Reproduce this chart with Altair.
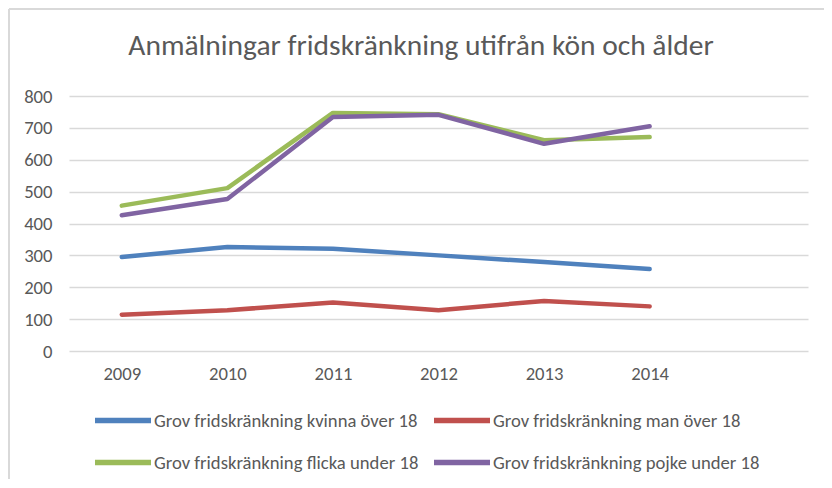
import altair as alt
import pandas as pd

years = ["2009", "2010", "2011", "2012", "2013", "2014"]
x_domain = years + [" "]
series = [
    "Grov fridskränkning kvinna över 18",
    "Grov fridskränkning flicka under 18",
    "Grov fridskränkning man över 18",
    "Grov fridskränkning pojke under 18",
]
kvinna = [295, 326, 321, 300, 279, 257]
flicka = [456, 511, 747, 743, 661, 671]
man = [114, 128, 152, 128, 157, 140]
pojke = [426, 477, 734, 741, 650, 705]
colors = ["#4f81bd", "#9bbb59", "#c0504d", "#8064a2"]
y_ticks = [0, 100, 200, 300, 400, 500, 600, 700, 800]
title_text = "Anmälningar fridskränkning utifrån kön och ålder"

rows = []
for name, vals in zip(series, [kvinna, flicka, man, pojke]):
    for yr, v in zip(years, vals):
        rows.append({"År": yr, "Antal": v, "Serie": name})
df = pd.DataFrame(rows)

FONT = "Carlito, Calibri, Lato, sans-serif"
GREY = "#595959"

lines = alt.Chart(df).mark_line(strokeWidth=4.5, strokeCap="round", strokeJoin="round").encode(
    x=alt.X("År:O", scale=alt.Scale(domain=x_domain, type="point", padding=0.5),
            axis=alt.Axis(title=None, labelAngle=0, domain=False, ticks=False, grid=False,
                          labelPadding=13, labelFontSize=18.67, labelColor=GREY, labelFont=FONT)),
    y=alt.Y("Antal:Q", scale=alt.Scale(domain=[0, 800], nice=False),
            axis=alt.Axis(title=None, values=y_ticks, domain=False, ticks=False, grid=True,
                          gridColor="#d9d9d9", gridWidth=1.3, labelPadding=17,
                          labelFontSize=18.67, labelColor=GREY, labelFont=FONT)),
    color=alt.Color("Serie:N", scale=alt.Scale(domain=series, range=colors),
                    legend=alt.Legend(title=None, orient="none", legendX=23, legendY=293.5,
                                      columns=2, symbolType="stroke", symbolSize=3136,
                                      symbolStrokeWidth=5.5, labelFontSize=18.67, labelColor=GREY,
                                      labelFont=FONT, labelLimit=400, labelOffset=0,
                                      columnPadding=4, rowPadding=0, padding=0)),
    order=alt.Order("År:O"),
)

one = alt.Data(values=[{"t": title_text}])
title = alt.Chart(one).mark_text(align="center", baseline="alphabetic", fontSize=29.5,
                                 font=FONT, color=GREY).encode(
    text="t:N", x=alt.value(352), y=alt.value(-41))
left_border = alt.Chart(one).mark_rule(color="#d9d9d9", strokeWidth=2).encode(
    x=alt.value(-60), y=alt.value(-87), y2=alt.value(390))
top_border = alt.Chart(one).mark_rule(color="#d9d9d9", strokeWidth=2).encode(
    x=alt.value(-60), x2=alt.value(760), y=alt.value(-87))

chart = alt.layer(left_border, top_border, title, lines).properties(
    width=739, height=255,
    autosize=alt.AutoSizeParams(type="none"),
    padding={"left": 61, "top": 88, "right": 16, "bottom": 128},
).configure_view(stroke=None)

chart.save("out.html", embed_options={"renderer": "svg", "actions": False})
